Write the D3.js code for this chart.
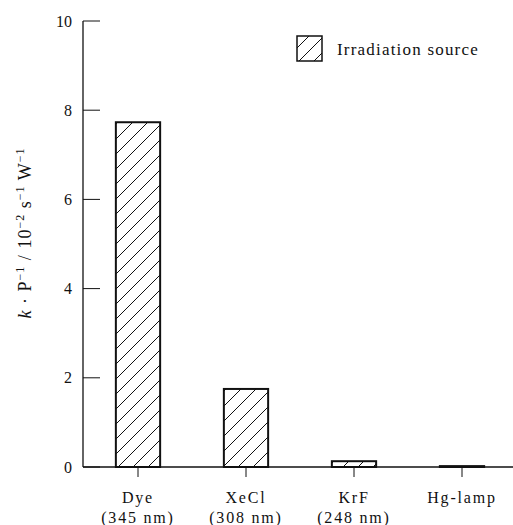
<!DOCTYPE html>
<html>
<head>
<meta charset="utf-8">
<script src="https://cdn.jsdelivr.net/npm/d3@7"></script>
<style>
  body { margin: 0; background: #fff; }
  text { font-family: "Liberation Serif", "DejaVu Serif", serif; fill: #111; }
</style>
</head>
<body>
<div id="chart"></div>
<script>
// Data
const sources = ['Dye', 'XeCl', 'KrF', 'Hg-lamp'];
const wavelengths = ['(345 nm)', '(308 nm)', '(248 nm)', ''];
const rates = [7.73, 1.75, 0.13, 0.02];
const yTicks = [0, 2, 4, 6, 8, 10];

const width = 513;
const height = 525;

const svg = d3.select('#chart')
    .append('svg')
    .attr('width', width)
    .attr('height', height);

// Hatch pattern for the bars
const defs = svg.append('defs');
defs.append('pattern')
    .attr('id', 'hatch')
    .attr('patternUnits', 'userSpaceOnUse')
    .attr('width', 15)
    .attr('height', 15)
    .append('path')
    .attr('d', 'M-2,17 L17,-2 M-4,4 L4,-4 M11,19 L19,11')
    .attr('stroke', '#111')
    .attr('stroke-width', 1);

const x = d3.scaleBand()
    .domain(sources)
    .range([84, 516])
    .paddingInner(0.59)
    .paddingOuter(0.295);

const y = d3.scaleLinear()
    .domain([0, 10])
    .range([467, 21]);

// y axis: line plus inward ticks
svg.append('line')
    .attr('x1', 83).attr('x2', 83)
    .attr('y1', y(10)).attr('y2', y(0))
    .attr('stroke', '#111').attr('stroke-width', 1.3);

svg.selectAll('.ytick')
    .data(yTicks)
    .enter()
    .append('line')
    .attr('x1', 83).attr('x2', 100)
    .attr('y1', d => y(d)).attr('y2', d => y(d))
    .attr('stroke', '#111').attr('stroke-width', 1);

svg.selectAll('.ylab')
    .data(yTicks)
    .enter()
    .append('text')
    .attr('x', 72)
    .attr('y', d => y(d))
    .attr('dy', '0.35em')
    .attr('text-anchor', 'end')
    .style('font-size', '16px')
    .text(d => d);

// bars
svg.selectAll('.bar')
    .data(rates)
    .enter()
    .append('rect')
    .attr('x', (d, i) => x(sources[i]))
    .attr('width', x.bandwidth())
    .attr('y', d => y(d))
    .attr('height', d => y(0) - y(d))
    .attr('fill', 'url(#hatch)')
    .attr('stroke', '#111')
    .attr('stroke-width', 2);

// x axis baseline and ticks below
svg.append('line')
    .attr('x1', 83).attr('x2', width)
    .attr('y1', y(0)).attr('y2', y(0))
    .attr('stroke', '#111').attr('stroke-width', 1.3);

svg.selectAll('.xtick')
    .data(sources)
    .enter()
    .append('line')
    .attr('x1', d => x(d) + x.bandwidth() / 2)
    .attr('x2', d => x(d) + x.bandwidth() / 2)
    .attr('y1', y(0)).attr('y2', y(0) + 10)
    .attr('stroke', '#111').attr('stroke-width', 1);

const xlab = svg.selectAll('.xlab')
    .data(sources)
    .enter()
    .append('text')
    .attr('x', d => x(d) + x.bandwidth() / 2)
    .attr('text-anchor', 'middle')
    .style('font-size', '16px')
    .style('letter-spacing', '1.8px');

xlab.append('tspan')
    .attr('x', d => x(d) + x.bandwidth() / 2)
    .attr('y', 503)
    .text(d => d);

xlab.append('tspan')
    .attr('x', d => x(d) + x.bandwidth() / 2)
    .attr('y', 523)
    .text((d, i) => wavelengths[i]);

// y axis title
const ytitle = svg.append('text')
    .attr('transform', 'translate(31,233) rotate(-90)')
    .attr('text-anchor', 'middle')
    .style('font-size', '18px')
    .style('letter-spacing', '1px');

ytitle.append('tspan').style('font-style', 'italic').text('k');
ytitle.append('tspan').text(' · P');
ytitle.append('tspan').attr('dy', -7).style('font-size', '12px').text('−1');
ytitle.append('tspan').attr('dy', 7).text(' / 10');
ytitle.append('tspan').attr('dy', -7).style('font-size', '12px').text('−2');
ytitle.append('tspan').attr('dy', 7).text(' s');
ytitle.append('tspan').attr('dy', -7).style('font-size', '12px').text('−1');
ytitle.append('tspan').attr('dy', 7).text(' W');
ytitle.append('tspan').attr('dy', -7).style('font-size', '12px').text('−1');

// legend
svg.append('rect')
    .attr('x', 297).attr('y', 36)
    .attr('width', 25).attr('height', 25)
    .attr('fill', 'url(#hatch)')
    .attr('stroke', '#111')
    .attr('stroke-width', 1.5);

svg.append('text')
    .attr('x', 337)
    .attr('y', 55)
    .style('font-size', '17px')
    .style('letter-spacing', '1.2px')
    .text('Irradiation source');
</script>
</body>
</html>
